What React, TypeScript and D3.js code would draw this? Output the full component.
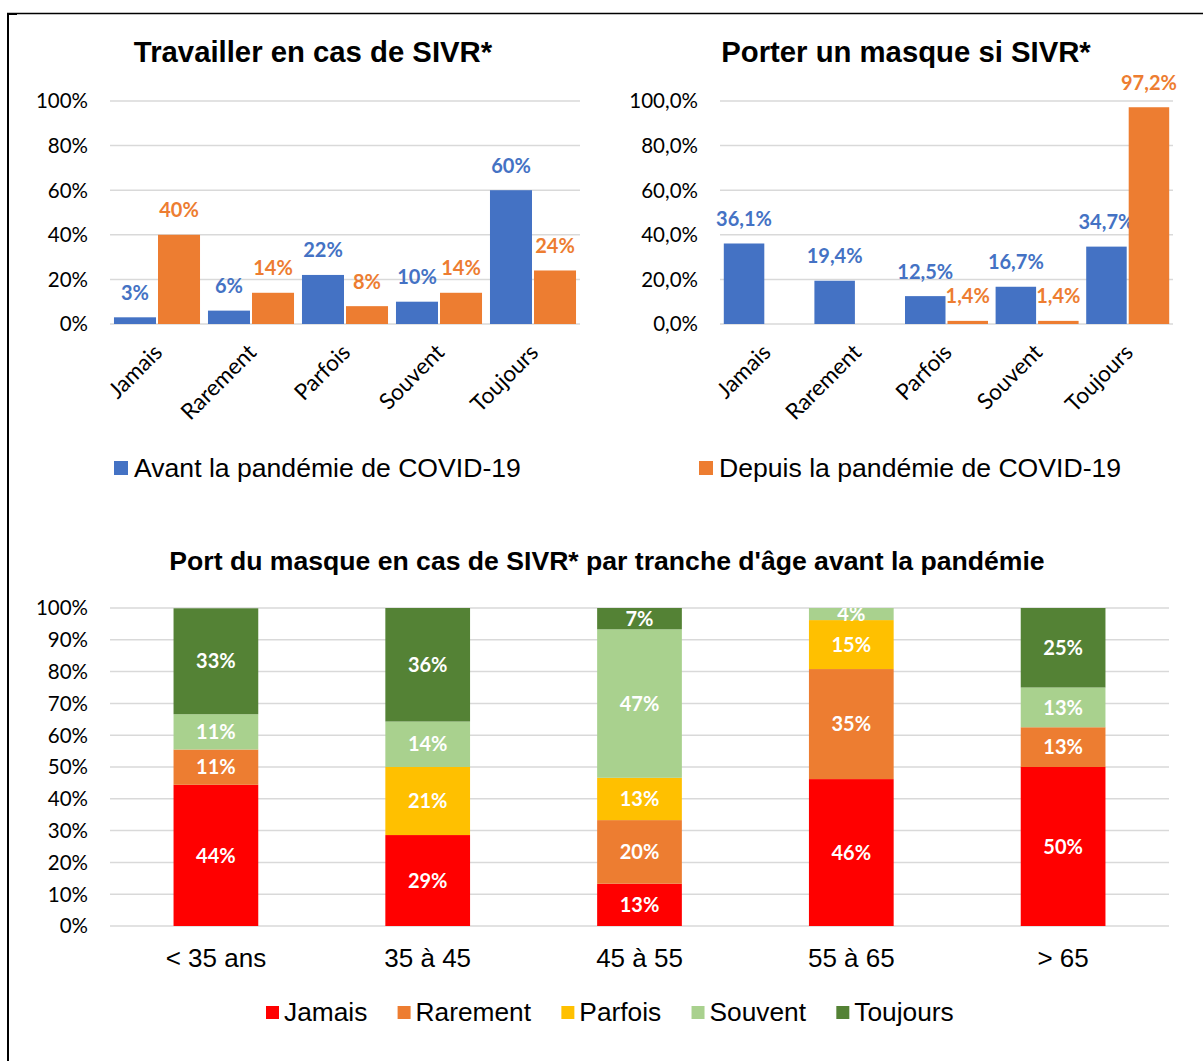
import React, { useEffect, useRef } from "react";
import * as d3 from "d3";

// ---------- data ----------
const CATEGORIES = ["Jamais", "Rarement", "Parfois", "Souvent", "Toujours"];
const WORK_BEFORE = [3, 6, 22, 10, 60];
const WORK_SINCE = [40, 14, 8, 14, 24];
const MASK_BEFORE = [36.1, 19.4, 12.5, 16.7, 34.7];
const MASK_SINCE: (number | null)[] = [null, null, 1.4, 1.4, 97.2];
const SERIES_NAMES = ["Avant la pandémie de COVID-19", "Depuis la pandémie de COVID-19"];

const AGE_GROUPS = ["< 35 ans", "35 à 45", "45 à 55", "55 à 65", "> 65"];
const AGE_JAMAIS = [44.4, 28.6, 13.3, 46.2, 50];
const AGE_RAREMENT = [11.1, 0, 20, 34.6, 12.5];
const AGE_PARFOIS = [0, 21.4, 13.3, 15.4, 0];
const AGE_SOUVENT = [11.1, 14.3, 46.7, 3.8, 12.5];
const AGE_TOUJOURS = [33.3, 35.7, 6.7, 0, 25];

const TICKS_TOP = [0, 20, 40, 60, 80, 100];
const TICKS_BOTTOM = [0, 10, 20, 30, 40, 50, 60, 70, 80, 90, 100];

const TITLES = [
  "Travailler en cas de SIVR*",
  "Porter un masque si SIVR*",
  "Port du masque en cas de SIVR* par tranche d'âge avant la pandémie",
];

// ---------- styles ----------
const BLUE = "#4472C4";
const ORANGE = "#ED7D31";
const STACK_COLORS = ["#FF0000", "#ED7D31", "#FFC000", "#A9D18E", "#548235"];
const GRID = "#D9D9D9";
const ARIAL = "'Liberation Sans', Arial, sans-serif";
const CAL = "Lato, 'Open Sans', sans-serif";

function groupedChart(
  svg: d3.Selection<SVGSVGElement, unknown, null, undefined>,
  opts: {
    x0: number; x1: number; y0: number; y1: number;
    a: (number | null)[]; b: (number | null)[];
    tickFmt: (v: number) => string; lblFmt: (v: number) => string;
    title: string; titleX: number;
  }
) {
  const g = svg.append("g");
  const x = d3.scaleBand<string>().domain(CATEGORIES).range([opts.x0, opts.x1]).padding(0);
  const y = d3.scaleLinear().domain([0, 100]).range([opts.y1, opts.y0]);

  g.append("text")
    .attr("x", opts.titleX).attr("y", 62)
    .attr("text-anchor", "middle")
    .style("font-family", ARIAL).style("font-weight", "bold").style("font-size", "29.3px")
    .text(opts.title);

  g.selectAll(".grid").data(TICKS_TOP).join("line")
    .attr("x1", opts.x0).attr("x2", opts.x1)
    .attr("y1", (d) => y(d)).attr("y2", (d) => y(d))
    .attr("stroke", GRID).attr("stroke-width", 1.5);

  g.selectAll(".tick").data(TICKS_TOP).join("text")
    .attr("x", opts.x0 - 22).attr("y", (d) => y(d)).attr("dy", "0.36em")
    .attr("text-anchor", "end")
    .style("font-family", CAL).style("font-size", "20.5px").attr("fill", "#000")
    .text((d) => opts.tickFmt(d));

  const bw = x.bandwidth() * 0.447;
  const gap = 2;
  const series = [
    { vals: opts.a, color: BLUE, off: -bw - gap / 2 },
    { vals: opts.b, color: ORANGE, off: gap / 2 },
  ];
  series.forEach((s) => {
    const data = CATEGORIES.map((c, i) => ({ c, v: s.vals[i] })).filter((d) => d.v != null) as { c: string; v: number }[];
    g.append("g").selectAll("rect").data(data).join("rect")
      .attr("x", (d) => x(d.c)! + x.bandwidth() / 2 + s.off)
      .attr("y", (d) => y(d.v)).attr("width", bw)
      .attr("height", (d) => y(0) - y(d.v)).attr("fill", s.color);
    g.append("g").selectAll("text").data(data).join("text")
      .attr("x", (d) => x(d.c)! + x.bandwidth() / 2 + s.off + bw / 2)
      .attr("y", (d) => y(d.v) - 17.5)
      .attr("text-anchor", "middle")
      .style("font-family", CAL).style("font-weight", "bold").style("font-size", "20px")
      .attr("fill", s.color)
      .text((d) => opts.lblFmt(d.v));
  });

  g.selectAll(".xl").data(CATEGORIES).join("text")
    .attr("transform", (d) => `translate(${x(d)! + x.bandwidth() / 2 + 1},${opts.y1 + 24}) rotate(-45)`)
    .attr("text-anchor", "end").attr("dy", "0.36em")
    .style("font-family", CAL).style("font-size", "22.5px").attr("fill", "#000")
    .text((d) => d);
}

export default function App() {
  const ref = useRef<SVGSVGElement>(null);

  useEffect(() => {
    const svg = d3.select(ref.current!);
    svg.selectAll("*").remove();

    // frame
    svg.append("line").attr("x1", 8).attr("x2", 8).attr("y1", 13).attr("y2", 1061).attr("stroke", "#000").attr("stroke-width", 2);
    svg.append("line").attr("x1", 7).attr("x2", 1203).attr("y1", 13.5).attr("y2", 13.5).attr("stroke", "#000").attr("stroke-width", 1.3);
    svg.append("line").attr("x1", 7).attr("x2", 17).attr("y1", 14).attr("y2", 14).attr("stroke", "#000").attr("stroke-width", 2);

    const intPct = (v: number) => `${Math.round(v)}%`;
    const decPct = (v: number) => `${v.toFixed(1).replace(".", ",")}%`;

    groupedChart(svg, {
      x0: 110, x1: 580, y0: 101, y1: 324,
      a: WORK_BEFORE, b: WORK_SINCE,
      tickFmt: intPct, lblFmt: intPct,
      title: TITLES[0], titleX: 313,
    });
    groupedChart(svg, {
      x0: 720, x1: 1173, y0: 101, y1: 324,
      a: MASK_BEFORE, b: MASK_SINCE,
      tickFmt: decPct, lblFmt: decPct,
      title: TITLES[1], titleX: 906,
    });

    // top legends
    const legTop = [
      { x: 114, color: BLUE, name: SERIES_NAMES[0] },
      { x: 699, color: ORANGE, name: SERIES_NAMES[1] },
    ];
    legTop.forEach((l) => {
      svg.append("rect").attr("x", l.x).attr("y", 461).attr("width", 14).attr("height", 14).attr("fill", l.color);
      svg.append("text").attr("x", l.x + 20).attr("y", 477)
        .style("font-family", ARIAL).style("font-size", "26.6px").attr("fill", "#000").text(l.name);
    });

    // bottom stacked chart
    const bx0 = 110, bx1 = 1169, by0 = 608, by1 = 926;
    const bg = svg.append("g");
    bg.append("text").attr("x", 607).attr("y", 570).attr("text-anchor", "middle")
      .style("font-family", ARIAL).style("font-weight", "bold").style("font-size", "26.6px")
      .text(TITLES[2]);

    const xb = d3.scaleBand<string>().domain(AGE_GROUPS).range([bx0, bx1]).padding(0);
    const yb = d3.scaleLinear().domain([0, 100]).range([by1, by0]);

    bg.selectAll(".grid").data(TICKS_BOTTOM).join("line")
      .attr("x1", bx0).attr("x2", bx1).attr("y1", (d) => yb(d)).attr("y2", (d) => yb(d))
      .attr("stroke", GRID).attr("stroke-width", 1.5);
    bg.selectAll(".tick").data(TICKS_BOTTOM).join("text")
      .attr("x", 88).attr("y", (d) => yb(d)).attr("dy", "0.36em").attr("text-anchor", "end")
      .style("font-family", CAL).style("font-size", "20.5px").attr("fill", "#000")
      .text((d) => `${d}%`);

    const rows = AGE_GROUPS.map((grp, i) => ({
      grp,
      Jamais: AGE_JAMAIS[i], Rarement: AGE_RAREMENT[i], Parfois: AGE_PARFOIS[i],
      Souvent: AGE_SOUVENT[i], Toujours: AGE_TOUJOURS[i],
    }));
    const stacked = d3.stack<any>().keys(CATEGORIES)(rows);
    const bbw = xb.bandwidth() * 0.4;

    svg.append("defs").append("clipPath").attr("id", "plotclip")
      .append("rect").attr("x", bx0).attr("y", by0).attr("width", bx1 - bx0).attr("height", by1 - by0);

    stacked.forEach((layer, k) => {
      const segs = layer.map((s) => ({ grp: s.data.grp as string, lo: s[0], hi: s[1] })).filter((s) => s.hi - s.lo > 0);
      bg.append("g").selectAll("rect").data(segs).join("rect")
        .attr("x", (d) => xb(d.grp)! + (xb.bandwidth() - bbw) / 2)
        .attr("y", (d) => yb(d.hi)).attr("width", bbw)
        .attr("height", (d) => yb(d.lo) - yb(d.hi))
        .attr("fill", STACK_COLORS[k]);
      bg.append("g").attr("clip-path", "url(#plotclip)").selectAll("text").data(segs).join("text")
        .attr("x", (d) => xb(d.grp)! + xb.bandwidth() / 2)
        .attr("y", (d) => (yb(d.lo) + yb(d.hi)) / 2).attr("dy", "0.36em")
        .attr("text-anchor", "middle")
        .style("font-family", CAL).style("font-weight", "bold").style("font-size", "20px")
        .attr("fill", "#fff")
        .text((d) => `${Math.round(d.hi - d.lo)}%`);
    });

    bg.selectAll(".xl").data(AGE_GROUPS).join("text")
      .attr("x", (d) => xb(d)! + xb.bandwidth() / 2).attr("y", 967).attr("text-anchor", "middle")
      .style("font-family", ARIAL).style("font-size", "26px").attr("fill", "#000")
      .text((d) => d);

    // bottom legend
    const leg = bg.append("g");
    let lx = 266;
    CATEGORIES.forEach((c, k) => {
      leg.append("rect").attr("x", lx).attr("y", 1006).attr("width", 13).attr("height", 13).attr("fill", STACK_COLORS[k]);
      const t = leg.append("text").attr("x", lx + 18).attr("y", 1021)
        .style("font-family", ARIAL).style("font-size", "26.3px").attr("fill", "#000").text(c);
      const w = (t.node() as SVGTextElement).getComputedTextLength();
      lx += 18 + w + 30.3;
    });
  }, []);

  return (
    <svg
      ref={ref}
      width={1203}
      height={1061}
      style={{ position: "absolute", left: 0, top: 0, background: "#fff", display: "block" }}
    />
  );
}
